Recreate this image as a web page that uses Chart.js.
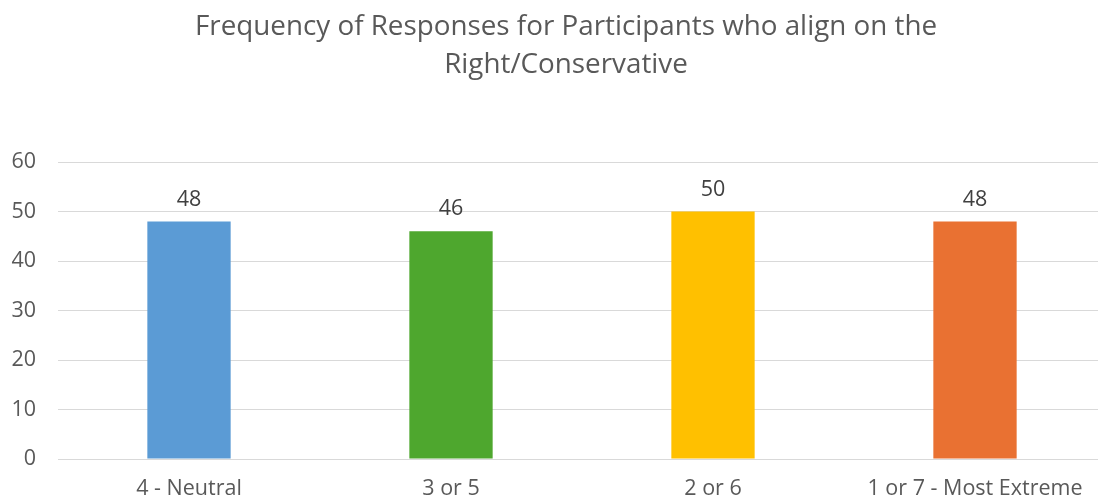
<!DOCTYPE html>
<html>
<head>
<meta charset="utf-8">
<script src="https://cdn.jsdelivr.net/npm/chart.js@4"></script>
<style>
  html, body { margin: 0; padding: 0; background: #fff; overflow: hidden; }
  /* the plot runs a few pixels past the right edge in the original */
  #wrap { width: 1106px; height: 501px; }
</style>
</head>
<body>
<div id="wrap"><canvas id="myChart"></canvas></div>
<script>
// categories and counts
var categories = ['4 - Neutral', '3 or 5', '2 or 6', '1 or 7 - Most Extreme'];
var counts = [48, 46, 50, 48];
var barColors = ['#5B9BD5', '#4EA72E', '#FFC000', '#E97132'];
var yTicks = [0, 10, 20, 30, 40, 50, 60];
var titleLines = ['Frequency of Responses for Participants who align on the', 'Right/Conservative'];

var font = "'Open Sans', sans-serif";

// draws the value above each bar
var valueLabels = {
    id: 'valueLabels',
    afterDatasetsDraw: function(chart) {
        var ctx = chart.ctx;
        var meta = chart.getDatasetMeta(0);
        ctx.save();
        ctx.font = '21.5px ' + font;
        ctx.fillStyle = '#404040';
        ctx.textAlign = 'center';
        ctx.textBaseline = 'middle';
        meta.data.forEach(function(bar, i) {
            ctx.fillText(counts[i], bar.x, bar.y - 22);
        });
        ctx.restore();
    }
};

// two-line title, centred a little right of the canvas middle like the original
var titleBlock = {
    id: 'titleBlock',
    afterDraw: function(chart) {
        var ctx = chart.ctx;
        ctx.save();
        ctx.font = '27.8px ' + font;
        ctx.fillStyle = '#595959';
        ctx.textAlign = 'center';
        ctx.textBaseline = 'middle';
        var cx = chart.width / 2 + 13;
        titleLines.forEach(function(line, i) {
            ctx.fillText(line, cx, 27 + i * 38);
        });
        ctx.restore();
    }
};

var ctx = document.getElementById('myChart').getContext('2d');
var myChart = new Chart(ctx, {
    type: 'bar',
    data: {
        labels: categories,
        datasets: [{
            label: 'Frequency',
            data: counts,
            backgroundColor: barColors,
            categoryPercentage: 1,
            barPercentage: 0.318
        }]
    },
    options: {
        responsive: true,
        maintainAspectRatio: false,
        animation: false,
        layout: { padding: { left: 8, right: 0, top: 162, bottom: 0 } },
        plugins: {
            legend: { display: false },
            tooltip: { enabled: false },
            title: { display: false }
        },
        scales: {
            x: {
                grid: { display: false, drawTicks: false },
                border: { display: false },
                ticks: { color: '#595959', font: { family: font, size: 21.5 }, padding: 17 },
                afterFit: function(axis) { axis.height = 42; }
            },
            y: {
                min: 0,
                max: 60,
                afterBuildTicks: function(axis) {
                    axis.ticks = yTicks.map(function(v) { return { value: v }; });
                },
                grid: { color: '#d9d9d9', lineWidth: 1, drawTicks: false },
                border: { display: false },
                ticks: { color: '#595959', font: { family: font, size: 21.5 }, padding: 22 },
                afterFit: function(axis) { axis.width = 50; }
            }
        }
    },
    plugins: [valueLabels, titleBlock]
});
</script>
</body>
</html>
